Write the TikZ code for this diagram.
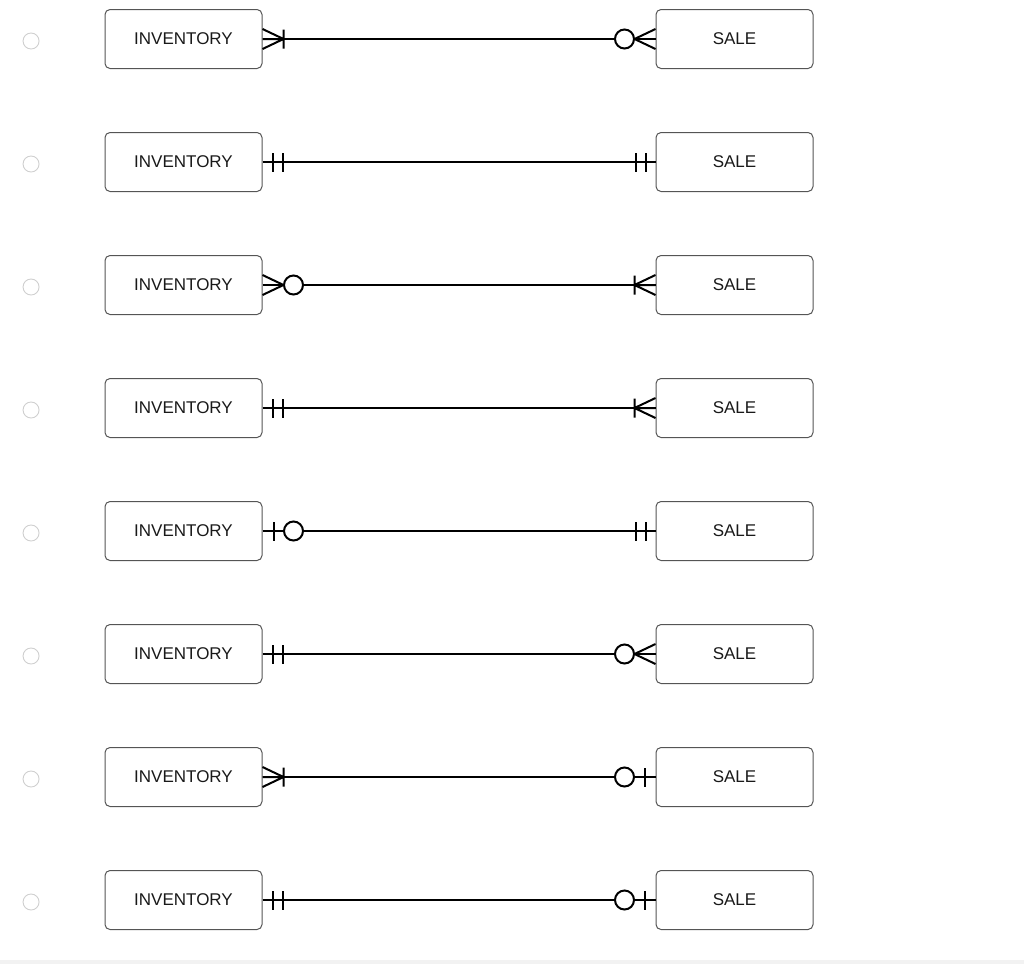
\documentclass[tikz,border=0pt]{standalone}
\usepackage{fontspec}
\setmainfont{Liberation Sans}
\usetikzlibrary{positioning}
\definecolor{boxcolor}{HTML}{555555}
\definecolor{radiocolor}{HTML}{CFCFCF}
\definecolor{bandcolor}{HTML}{F2F2F2}

\tikzset{
  entity/.style={draw=boxcolor, line width=1pt, rounded corners=5pt,
                 minimum width=157pt, minimum height=59pt,
                 font=\fontsize{17}{20}\selectfont, text=black!90},
  radio/.style={circle, draw=radiocolor, line width=0.9pt,
                minimum size=16pt, inner sep=0pt},
  rel/.style={line width=2pt, draw=black},
  % cardinality marks, drawn outwards from a box edge
  onlyone/.pic={\draw[rel] (10,-9.5) -- (10,9.5) (20,-9.5) -- (20,9.5);},
  oneormany/.pic={\draw[rel] (0,10) -- (21,0) -- (0,-10) (0,0) -- (21,0)
                   (21,-9.5) -- (21,9.5);},
  zeroormany/.pic={\draw[rel] (0,10) -- (21,0) -- (0,-10);
                    \draw[rel, fill=white] (31,0) circle (9.5);},
  zeroorone/.pic={\draw[rel] (11,-9.5) -- (11,9.5);
                   \draw[rel, fill=white] (31,0) circle (9.5);}
}

\begin{document}
\begin{tikzpicture}[x=1pt, y=1pt, node distance=63pt and 393pt]
    \useasboundingbox (0,0) rectangle (1024,-964);
    \fill[bandcolor] (0,-960) rectangle (1024,-964);

    % Row 1
    \node[entity] (inv1) at (183.5,-39) {INVENTORY};
    \node[entity, right=of inv1] (sale1) {SALE};
    \node[radio, left=65pt of inv1, yshift=-2pt] (opt1) {};
    \draw[rel] (inv1) -- (sale1);
    \pic at (inv1.east) {oneormany};
    \pic[xscale=-1] at (sale1.west) {zeroormany};

    % Row 2
    \node[entity, below=of inv1] (inv2) {INVENTORY};
    \node[entity, right=of inv2] (sale2) {SALE};
    \node[radio, left=65pt of inv2, yshift=-2pt] (opt2) {};
    \draw[rel] (inv2) -- (sale2);
    \pic at (inv2.east) {onlyone};
    \pic[xscale=-1] at (sale2.west) {onlyone};

    % Row 3
    \node[entity, below=of inv2] (inv3) {INVENTORY};
    \node[entity, right=of inv3] (sale3) {SALE};
    \node[radio, left=65pt of inv3, yshift=-2pt] (opt3) {};
    \draw[rel] (inv3) -- (sale3);
    \pic at (inv3.east) {zeroormany};
    \pic[xscale=-1] at (sale3.west) {oneormany};

    % Row 4
    \node[entity, below=of inv3] (inv4) {INVENTORY};
    \node[entity, right=of inv4] (sale4) {SALE};
    \node[radio, left=65pt of inv4, yshift=-2pt] (opt4) {};
    \draw[rel] (inv4) -- (sale4);
    \pic at (inv4.east) {onlyone};
    \pic[xscale=-1] at (sale4.west) {oneormany};

    % Row 5
    \node[entity, below=of inv4] (inv5) {INVENTORY};
    \node[entity, right=of inv5] (sale5) {SALE};
    \node[radio, left=65pt of inv5, yshift=-2pt] (opt5) {};
    \draw[rel] (inv5) -- (sale5);
    \pic at (inv5.east) {zeroorone};
    \pic[xscale=-1] at (sale5.west) {onlyone};

    % Row 6
    \node[entity, below=of inv5] (inv6) {INVENTORY};
    \node[entity, right=of inv6] (sale6) {SALE};
    \node[radio, left=65pt of inv6, yshift=-2pt] (opt6) {};
    \draw[rel] (inv6) -- (sale6);
    \pic at (inv6.east) {onlyone};
    \pic[xscale=-1] at (sale6.west) {zeroormany};

    % Row 7
    \node[entity, below=of inv6] (inv7) {INVENTORY};
    \node[entity, right=of inv7] (sale7) {SALE};
    \node[radio, left=65pt of inv7, yshift=-2pt] (opt7) {};
    \draw[rel] (inv7) -- (sale7);
    \pic at (inv7.east) {oneormany};
    \pic[xscale=-1] at (sale7.west) {zeroorone};

    % Row 8
    \node[entity, below=of inv7] (inv8) {INVENTORY};
    \node[entity, right=of inv8] (sale8) {SALE};
    \node[radio, left=65pt of inv8, yshift=-2pt] (opt8) {};
    \draw[rel] (inv8) -- (sale8);
    \pic at (inv8.east) {onlyone};
    \pic[xscale=-1] at (sale8.west) {zeroorone};
\end{tikzpicture}
\end{document}
